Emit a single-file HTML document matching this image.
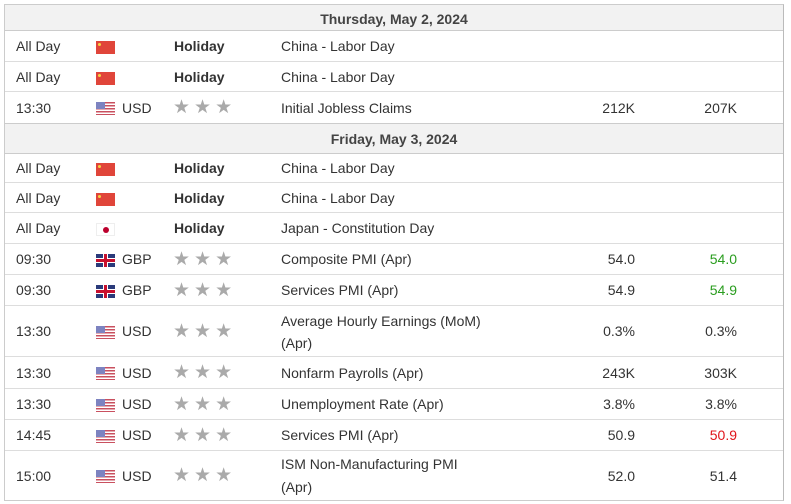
<!DOCTYPE html>
<html><head><meta charset="utf-8"><style>
*{margin:0;padding:0;box-sizing:border-box}
body{width:791px;height:504px;background:#fff;font-family:"Liberation Sans",Arial,sans-serif;font-size:14px;color:#333;position:relative;overflow:hidden}
.tbl{position:absolute;left:4px;top:4px;width:780px;height:497px;border:1px solid #ccc;border-right:1px solid #bbb}
.r{position:absolute;left:0;width:778px;border-bottom:1px solid #ddd}
.h{background:#f2f2f2;font-weight:bold;text-align:center;color:#444;border-bottom:1px solid #ccc}
.c{position:absolute;white-space:nowrap}
.t{left:11px}.f{left:91px;width:19px;height:13px}.cu{left:117px}.s{left:168px;color:#aaa;font-size:19px;letter-spacing:4px}
.e{left:276px}.a{right:148px;text-align:right}.fc{right:46px;text-align:right}
.b{font-weight:bold;left:169px}
.cn{background:#e0453a}
.cn::after{content:"";position:absolute;left:2px;top:2px;width:3px;height:3px;background:#f5d442;border-radius:50%}
.us{background:repeating-linear-gradient(#c9505f 0 1.5px,#fff 1.5px 3px)}
.us::after{content:"";position:absolute;left:0;top:0;width:9px;height:7px;background:#7d83c0}
.gb{background:linear-gradient(#c8102e,#c8102e) center/100% 3px no-repeat,linear-gradient(#c8102e,#c8102e) center/3px 100% no-repeat,linear-gradient(#fff,#fff) center/100% 5px no-repeat,linear-gradient(#fff,#fff) center/5px 100% no-repeat,#2a3a7a}
.jp{background:#fff;border:1px solid #eee}
.jp::after{content:"";position:absolute;left:6px;top:3px;width:6px;height:6px;background:#bc002d;border-radius:50%}
.g{color:#2a9d1f}.red{color:#e0151b}
</style></head><body><div class="tbl">
<div class="r h" style="top:0;height:26px;line-height:28px">Thursday, May 2, 2024</div>
<div class="r" style="top:26px;height:31px;line-height:31px"><span class="c t">All Day</span><span class="c f cn" style="top:10px"></span><span class="c b">Holiday</span><span class="c e">China - Labor Day</span></div>
<div class="r" style="top:57px;height:30px;line-height:30px"><span class="c t">All Day</span><span class="c f cn" style="top:10px"></span><span class="c b">Holiday</span><span class="c e">China - Labor Day</span></div>
<div class="r" style="top:87px;height:32px;line-height:32px;border-bottom:1px solid #ccc"><span class="c t">13:30</span><span class="c f us" style="top:10px"></span><span class="c cu">USD</span><span class="c s">★★★</span><span class="c e">Initial Jobless Claims</span><span class="c a">212K</span><span class="c fc">207K</span></div>
<div class="r h" style="top:119px;height:30px;line-height:30px">Friday, May 3, 2024</div>
<div class="r" style="top:149px;height:29px;line-height:29px"><span class="c t">All Day</span><span class="c f cn" style="top:9px"></span><span class="c b">Holiday</span><span class="c e">China - Labor Day</span></div>
<div class="r" style="top:178px;height:30px;line-height:30px"><span class="c t">All Day</span><span class="c f cn" style="top:10px"></span><span class="c b">Holiday</span><span class="c e">China - Labor Day</span></div>
<div class="r" style="top:208px;height:31px;line-height:31px"><span class="c t">All Day</span><span class="c f jp" style="top:10px"></span><span class="c b">Holiday</span><span class="c e">Japan - Constitution Day</span></div>
<div class="r" style="top:239px;height:31px;line-height:31px"><span class="c t">09:30</span><span class="c f gb" style="top:10px"></span><span class="c cu">GBP</span><span class="c s">★★★</span><span class="c e">Composite PMI (Apr)</span><span class="c a">54.0</span><span class="c fc g">54.0</span></div>
<div class="r" style="top:270px;height:31px;line-height:31px"><span class="c t">09:30</span><span class="c f gb" style="top:10px"></span><span class="c cu">GBP</span><span class="c s">★★★</span><span class="c e">Services PMI (Apr)</span><span class="c a">54.9</span><span class="c fc g">54.9</span></div>
<div class="r" style="top:301px;height:51px;line-height:51px"><span class="c t">13:30</span><span class="c f us" style="top:20px"></span><span class="c cu">USD</span><span class="c s">★★★</span><span class="c e" style="line-height:22px;top:4px">Average Hourly Earnings (MoM)<br>(Apr)</span><span class="c a">0.3%</span><span class="c fc">0.3%</span></div>
<div class="r" style="top:352px;height:32px;line-height:32px"><span class="c t">13:30</span><span class="c f us" style="top:10px"></span><span class="c cu">USD</span><span class="c s">★★★</span><span class="c e">Nonfarm Payrolls (Apr)</span><span class="c a">243K</span><span class="c fc">303K</span></div>
<div class="r" style="top:384px;height:31px;line-height:31px"><span class="c t">13:30</span><span class="c f us" style="top:10px"></span><span class="c cu">USD</span><span class="c s">★★★</span><span class="c e">Unemployment Rate (Apr)</span><span class="c a">3.8%</span><span class="c fc">3.8%</span></div>
<div class="r" style="top:415px;height:31px;line-height:31px"><span class="c t">14:45</span><span class="c f us" style="top:10px"></span><span class="c cu">USD</span><span class="c s">★★★</span><span class="c e">Services PMI (Apr)</span><span class="c a">50.9</span><span class="c fc red">50.9</span></div>
<div class="r" style="top:446px;height:50px;line-height:50px;border-bottom:none"><span class="c t">15:00</span><span class="c f us" style="top:19px"></span><span class="c cu">USD</span><span class="c s">★★★</span><span class="c e" style="line-height:23px;top:2px">ISM Non-Manufacturing PMI<br>(Apr)</span><span class="c a">52.0</span><span class="c fc">51.4</span></div>
</div></body></html>
